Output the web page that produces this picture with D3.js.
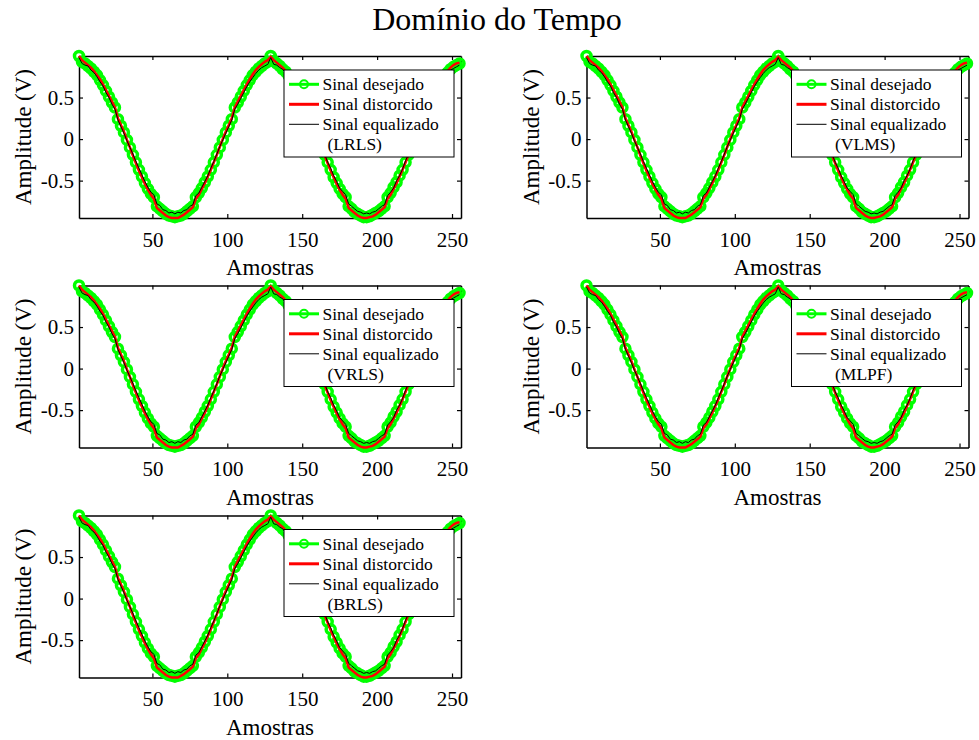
<!DOCTYPE html>
<html>
<head>
<meta charset="utf-8">
<script src="https://cdn.jsdelivr.net/npm/d3@7"></script>
<style>
  body { margin: 0; background: #fff; }
  svg, svg text { font-family: "Liberation Serif", Tinos, "Times New Roman", "DejaVu Serif", serif; }
</style>
</head>
<body>
<script>
// Sample indices (every 2nd sample of 256)
const samples = d3.range(1, 256, 2);

// Desired signal (green)
const desired = [
  1.00, 0.93, 0.91, 0.88, 0.85, 0.81, 0.77, 0.71, 0.65, 0.58, 0.51, 0.44, 0.38, 0.24, 0.16, 0.08,
  -0.01, -0.10, -0.19, -0.28, -0.37, -0.45, -0.53, -0.60, -0.66, -0.70, -0.81, -0.84, -0.87, -0.90, -0.92, -0.93,
  -0.94, -0.93, -0.92, -0.90, -0.87, -0.84, -0.81, -0.70, -0.65, -0.59, -0.52, -0.45, -0.37, -0.28, -0.19, -0.10,
  -0.01, 0.08, 0.16, 0.24, 0.38, 0.44, 0.51, 0.58, 0.65, 0.71, 0.77, 0.81, 0.85, 0.88, 0.91, 0.93,
  1.00, 0.94, 0.91, 0.88, 0.84, 0.81, 0.76, 0.71, 0.65, 0.59, 0.52, 0.44, 0.38, 0.24, 0.16, 0.08,
  -0.02, -0.11, -0.19, -0.28, -0.37, -0.46, -0.53, -0.60, -0.66, -0.70, -0.81, -0.84, -0.88, -0.90, -0.92, -0.94,
  -0.94, -0.93, -0.91, -0.89, -0.87, -0.84, -0.81, -0.70, -0.65, -0.58, -0.52, -0.44, -0.37, -0.28, -0.19, -0.10,
  -0.01, 0.08, 0.16, 0.24, 0.38, 0.44, 0.51, 0.58, 0.64, 0.70, 0.76, 0.80, 0.84, 0.87, 0.89, 0.91
];

// Distorted signal (red)
const distorted = [
  1.00, 0.95, 0.92, 0.89, 0.86, 0.82, 0.77, 0.72, 0.66, 0.59, 0.52, 0.45, 0.38, 0.25, 0.17, 0.09,
  -0.01, -0.10, -0.20, -0.29, -0.38, -0.46, -0.54, -0.61, -0.67, -0.72, -0.83, -0.86, -0.89, -0.92, -0.94, -0.95,
  -0.95, -0.95, -0.93, -0.91, -0.88, -0.85, -0.82, -0.72, -0.67, -0.60, -0.53, -0.45, -0.37, -0.28, -0.19, -0.09,
  0.00, 0.09, 0.17, 0.25, 0.38, 0.45, 0.52, 0.59, 0.66, 0.72, 0.78, 0.83, 0.87, 0.90, 0.93, 0.95,
  0.99, 0.95, 0.92, 0.89, 0.86, 0.82, 0.77, 0.72, 0.66, 0.59, 0.52, 0.45, 0.38, 0.25, 0.17, 0.09,
  -0.01, -0.10, -0.20, -0.29, -0.38, -0.46, -0.54, -0.61, -0.67, -0.72, -0.83, -0.86, -0.89, -0.92, -0.94, -0.95,
  -0.95, -0.94, -0.93, -0.91, -0.88, -0.85, -0.82, -0.72, -0.67, -0.60, -0.53, -0.45, -0.37, -0.28, -0.19, -0.09,
  0.00, 0.09, 0.17, 0.25, 0.38, 0.45, 0.52, 0.59, 0.65, 0.71, 0.77, 0.82, 0.86, 0.89, 0.91, 0.92
];

// Equalized signal (black)
const equalized = [
  0.98, 0.91, 0.89, 0.88, 0.83, 0.80, 0.75, 0.69, 0.64, 0.56, 0.50, 0.42, 0.36, 0.23, 0.15, 0.07,
  -0.02, -0.10, -0.18, -0.27, -0.35, -0.43, -0.51, -0.58, -0.64, -0.67, -0.78, -0.80, -0.85, -0.86, -0.89, -0.88,
  -0.90, -0.88, -0.89, -0.86, -0.85, -0.81, -0.79, -0.68, -0.65, -0.58, -0.51, -0.44, -0.35, -0.27, -0.18, -0.09,
  -0.01, 0.07, 0.15, 0.23, 0.36, 0.42, 0.49, 0.56, 0.63, 0.69, 0.74, 0.79, 0.83, 0.86, 0.88, 0.90,
  0.98, 0.90, 0.89, 0.86, 0.84, 0.79, 0.75, 0.70, 0.63, 0.57, 0.49, 0.43, 0.36, 0.23, 0.15, 0.06,
  -0.02, -0.11, -0.18, -0.28, -0.35, -0.44, -0.51, -0.59, -0.63, -0.67, -0.78, -0.81, -0.84, -0.87, -0.88, -0.90,
  -0.89, -0.90, -0.88, -0.87, -0.84, -0.81, -0.79, -0.68, -0.64, -0.59, -0.50, -0.44, -0.36, -0.26, -0.18, -0.10,
  0.00, 0.07, 0.15, 0.23, 0.36, 0.43, 0.50, 0.57, 0.62, 0.69, 0.74, 0.79, 0.83, 0.85, 0.87, 0.89
];

const methods = ["LRLS", "VLMS", "VRLS", "MLPF", "BRLS"];
const xTicks = [50, 100, 150, 200, 250];
const yTicks = [-0.5, 0, 0.5];
const legendLabels = ["Sinal desejado", "Sinal distorcido", "Sinal equalizado"];

const W = 979, H = 740;
const pw = 382, ph = 162;
const colX = [79, 586.5];
const rowY = [56, 285.5, 515.5];
const serif = '"Liberation Serif", Tinos, "Times New Roman", "DejaVu Serif", serif';

const svg = d3.select("body").append("svg")
    .attr("width", W)
    .attr("height", H);

// Title
svg.append("text")
    .attr("x", 497)
    .attr("y", 30)
    .attr("text-anchor", "middle")
    .style("font-size", "32px")
    .text("Domínio do Tempo");

const xScale = d3.scaleLinear().domain([1, 256]).range([0, pw]);
const yExtent = d3.extent(desired.concat(distorted, equalized));
const yScale = d3.scaleLinear().domain(yExtent).range([ph, 0]);

const line = d3.line()
    .x((d, i) => xScale(samples[i]))
    .y(d => yScale(d));

methods.forEach(function(method, idx) {
    const g = svg.append("g")
        .attr("transform", `translate(${colX[idx % 2]},${rowY[Math.floor(idx / 2)]})`);

    // Axes (ticks pointing inwards, box on)
    const fmt = d => d === 0 ? "0" : String(d);
    g.append("g")
        .attr("transform", `translate(0,${ph})`)
        .call(d3.axisBottom(xScale).tickValues(xTicks).tickSizeInner(-4).tickSizeOuter(0).tickPadding(14));
    g.append("g")
        .call(d3.axisTop(xScale).tickValues(xTicks).tickSizeInner(-4).tickSizeOuter(0).tickFormat(""));
    g.append("g")
        .call(d3.axisLeft(yScale).tickValues(yTicks).tickSizeInner(-4).tickSizeOuter(0).tickPadding(5).tickFormat(fmt));
    g.append("g")
        .attr("transform", `translate(${pw},0)`)
        .call(d3.axisRight(yScale).tickValues(yTicks).tickSizeInner(-4).tickSizeOuter(0).tickFormat(""));

    g.selectAll("g").attr("font-family", serif);
    g.selectAll(".domain").attr("stroke", "#000").attr("stroke-width", 1.5);
    g.selectAll(".tick line").attr("stroke", "#000").attr("stroke-width", 1.2);
    g.selectAll(".tick text")
        .attr("font-size", 21)
        .attr("fill", "#000");

    // Desired: green line with circle markers
    g.append("path")
        .datum(desired)
        .attr("d", line)
        .attr("fill", "none")
        .attr("stroke", "#00ff00")
        .attr("stroke-width", 2);
    g.selectAll(".mk")
        .data(desired)
        .enter().append("circle")
        .attr("class", "mk")
        .attr("cx", (d, i) => xScale(samples[i]))
        .attr("cy", d => yScale(d))
        .attr("r", 4.5)
        .attr("fill", "none")
        .attr("stroke", "#00ff00")
        .attr("stroke-width", 3.5);

    // Distorted: red
    g.append("path")
        .datum(distorted)
        .attr("d", line)
        .attr("fill", "none")
        .attr("stroke", "#ff0000")
        .attr("stroke-width", 2.5);

    // Equalized: black
    g.append("path")
        .datum(equalized)
        .attr("d", line)
        .attr("fill", "none")
        .attr("stroke", "#000")
        .attr("stroke-width", 1);

    // Axis labels
    g.append("text")
        .attr("x", pw / 2)
        .attr("y", ph + 49)
        .attr("dy", "0.35em")
        .attr("text-anchor", "middle")
        .style("font-size", "23px")
        .text("Amostras");
    g.append("text")
        .attr("transform", "rotate(-90)")
        .attr("x", -ph / 2)
        .attr("y", -56)
        .attr("dy", "0.35em")
        .attr("text-anchor", "middle")
        .style("font-size", "23px")
        .text("Amplitude (V)");

    // Legend
    const lg = g.append("g").attr("transform", `translate(${pw - 177},14)`);
    lg.append("rect")
        .attr("width", 170)
        .attr("height", 87)
        .attr("fill", "#fff")
        .attr("stroke", "#000")
        .attr("stroke-width", 1);
    const rows = [14.3, 34.3, 54.3];
    const styles = [
        {c: "#00ff00", w: 3},
        {c: "#ff0000", w: 3},
        {c: "#000", w: 1}
    ];
    legendLabels.forEach(function(lab, j) {
        lg.append("line")
            .attr("x1", 5).attr("x2", 35)
            .attr("y1", rows[j]).attr("y2", rows[j])
            .attr("stroke", styles[j].c)
            .attr("stroke-width", styles[j].w);
        if (j === 0) {
            lg.append("circle")
                .attr("cx", 20).attr("cy", rows[j]).attr("r", 4)
                .attr("fill", "none")
                .attr("stroke", "#00ff00")
                .attr("stroke-width", 2);
        }
        lg.append("text")
            .attr("x", 38.5)
            .attr("y", rows[j])
            .attr("dy", "0.35em")
            .style("font-size", "17.5px")
            .text(lab);
    });
    lg.append("text")
        .attr("x", 43.5)
        .attr("y", 74.3)
        .attr("dy", "0.35em")
        .style("font-size", "17.5px")
        .text(`(${method})`);
});
</script>
</body>
</html>
